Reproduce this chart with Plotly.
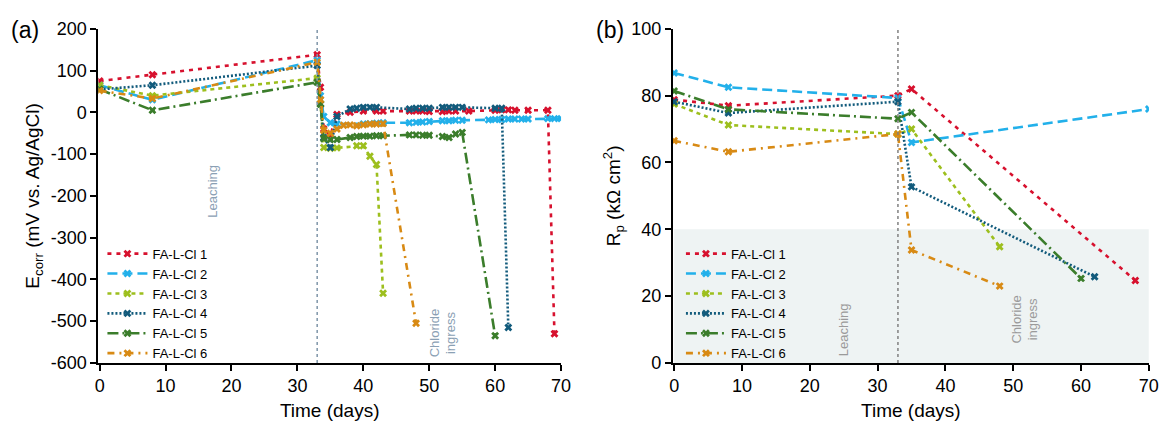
import plotly.graph_objects as go

names = ["FA-L-Cl 1", "FA-L-Cl 2", "FA-L-Cl 3", "FA-L-Cl 4", "FA-L-Cl 5", "FA-L-Cl 6"]
colors = ["#d7112e", "#22b0ea", "#9dbf1e", "#125b7c", "#3b7d2b", "#d88a14"]
dashes = ["4px,5px", "10px,5px", "4px,4px", "2px,2px", "11px,4px,2px,4px", "7px,5px,2px,5px"]

# (a) Ecorr data
e1_day = [0, 8, 33, 33.5, 34, 35, 36, 38, 40, 42, 43, 47, 48, 49, 50, 52, 53, 54, 56, 60, 61, 62, 63, 65, 68, 69]
e1_val = [75, 90, 138, 60, -40, -55, -5, 0, 3, 3, 3, 3, 3, 3, 2, 2, 3, 3, 3, 5, 6, 6, 5, 5, 5, -530]
e2_day = [0, 8, 33, 33.5, 34, 35, 36, 40, 41, 42, 43, 47, 48, 49, 50, 52, 53, 54, 55, 59, 60, 61, 62, 63, 64, 65, 68, 69, 70]
e2_val = [65, 30, 125, 40, -10, -25, -28, -28, -27, -26, -25, -25, -24, -23, -22, -20, -20, -19, -19, -18, -17, -17, -16, -16, -16, -16, -15, -15, -15]
e3_day = [0, 8, 33, 33.5, 34, 35, 36, 39, 40, 41, 42, 43]
e3_val = [65, 40, 82, 20, -84, -86, -85, -80, -80, -105, -125, -433]
e4_day = [0, 8, 33, 33.5, 34, 35, 36, 38, 39, 40, 41, 42, 47, 48, 49, 50, 52, 53, 54, 55, 60, 61, 62]
e4_val = [55, 65, 112, 20, -60, -84, -10, 8, 10, 12, 12, 12, 8, 10, 10, 10, 12, 12, 12, 12, 10, 10, -515]
e5_day = [0, 8, 33, 33.5, 34, 35, 36, 38, 39, 40, 41, 42, 43, 47, 48, 49, 50, 52, 53, 54, 55, 60]
e5_val = [55, 5, 72, 20, -63, -65, -65, -60, -58, -57, -57, -56, -56, -54, -54, -55, -55, -58, -60, -52, -48, -535]
e6_day = [0, 8, 33, 33.5, 34, 35, 36, 37, 38, 39, 40, 41, 42, 43, 48]
e6_val = [52, 33, 120, 30, -43, -50, -40, -31, -30, -32, -30, -28, -28, -27, -505]

# (b) Rp data
r1_day = [0, 8, 33, 35, 68]
r1_val = [78.8, 77, 80, 82, 24.7]
r2_day = [0, 8, 33, 35, 70]
r2_val = [86.8, 82.5, 79.3, 66, 76]
r3_day = [0, 8, 33, 35, 48]
r3_val = [77.5, 71.2, 68.5, 70, 34.8]
r4_day = [0, 8, 33, 35, 62]
r4_val = [78.2, 74.8, 78.2, 52.7, 25.8]
r5_day = [0, 8, 33, 35, 60]
r5_val = [81.4, 75.9, 73.1, 75, 25.3]
r6_day = [0, 8, 33, 35, 48]
r6_val = [66.5, 63.2, 68.5, 33.8, 23]

x_ticks = [0, 10, 20, 30, 40, 50, 60, 70]
e_ticks = [-600, -500, -400, -300, -200, -100, 0, 100, 200]
e_ticktext = ["-600", "-500", "-400", "-300", "-200", "-100", "0", "100", "200"]
r_ticks = [0, 20, 40, 60, 80, 100]

e_days = [e1_day, e2_day, e3_day, e4_day, e5_day, e6_day]
e_vals = [e1_val, e2_val, e3_val, e4_val, e5_val, e6_val]
r_days = [r1_day, r2_day, r3_day, r4_day, r5_day, r6_day]
r_vals = [r1_val, r2_val, r3_val, r4_val, r5_val, r6_val]

FONT = "Liberation Sans, Arial, sans-serif"
fig = go.Figure()

for i in range(6):
    fig.add_trace(go.Scatter(
        x=e_days[i], y=e_vals[i], name=names[i], mode="lines+markers",
        line=dict(color=colors[i], width=2.6, dash=dashes[i]),
        marker=dict(symbol="x", size=7, color=colors[i]),
        xaxis="x", yaxis="y", legend="legend"))
for i in range(6):
    fig.add_trace(go.Scatter(
        x=r_days[i], y=r_vals[i], name=names[i], mode="lines+markers",
        line=dict(color=colors[i], width=2.6, dash=dashes[i]),
        marker=dict(symbol="x", size=7, color=colors[i]),
        xaxis="x2", yaxis="y2", legend="legend2"))

axis_common = dict(showline=True, linecolor="black", linewidth=1.8, ticks="outside",
                   ticklen=6, tickwidth=1.5, tickcolor="black", showgrid=False, zeroline=False,
                   automargin=False,
                   tickfont=dict(family=FONT, size=18, color="black"),
                   title_font=dict(family=FONT, size=19, color="black"))

fig.update_layout(
    width=1164, height=424, margin=dict(l=0, r=0, t=0, b=0),
    paper_bgcolor="white", plot_bgcolor="rgba(0,0,0,0)",
    xaxis=dict(domain=[0.0845, 0.482], range=[-0.2, 70], tickvals=x_ticks,
               title=dict(text="Time (days)", standoff=8), anchor="y", **axis_common),
    yaxis=dict(domain=[0.144, 0.932], range=[-600, 200], tickvals=e_ticks, ticktext=e_ticktext,
               title=dict(text="E<sub>corr</sub> (mV vs. Ag/AgCl)", standoff=6), anchor="x", **axis_common),
    xaxis2=dict(domain=[0.578, 0.987], range=[-0.2, 70], tickvals=x_ticks,
                title=dict(text="Time (days)", standoff=8), anchor="y2", **axis_common),
    yaxis2=dict(domain=[0.144, 0.932], range=[0, 100], tickvals=r_ticks,
                title=dict(text="R<sub>p</sub> (kΩ cm<sup>2</sup>)", standoff=6), anchor="x2", **axis_common),
    legend=dict(x=0.088, y=0.437, xanchor="left", yanchor="top", bgcolor="rgba(0,0,0,0)",
                font=dict(family=FONT, size=13, color="black"), tracegroupgap=0, itemwidth=40),
    legend2=dict(x=0.585, y=0.437, xanchor="left", yanchor="top", bgcolor="rgba(0,0,0,0)",
                 font=dict(family=FONT, size=13, color="black"), tracegroupgap=0, itemwidth=40),
    showlegend=True,
)

# shaded region on (b)
fig.add_shape(type="rect", xref="x2", yref="y2", x0=0, x1=70, y0=0, y1=40,
              fillcolor="#eef3f3", line=dict(width=0), layer="below")
# vertical dotted lines at day 33
fig.add_shape(type="line", xref="x", yref="y", x0=33, x1=33, y0=-600, y1=200,
              line=dict(color="#7e95a8", width=1.5, dash="dot"))
fig.add_shape(type="line", xref="x2", yref="y2", x0=33, x1=33, y0=0, y1=100,
              line=dict(color="#808080", width=1.5, dash="dot"))

ann = [
    dict(text="(a)", x=0.008, y=0.93, xref="paper", yref="paper", xanchor="left", yanchor="middle",
         font=dict(family=FONT, size=23, color="black"), showarrow=False),
    dict(text="(b)", x=0.51, y=0.93, xref="paper", yref="paper", xanchor="left", yanchor="middle",
         font=dict(family=FONT, size=23, color="black"), showarrow=False),
    dict(text="Leaching", x=17.2, y=-190, xref="x", yref="y", textangle=-90,
         font=dict(family=FONT, size=13, color="#8aa0b4"), showarrow=False),
    dict(text="Chloride<br>ingress", x=52, y=-528, xref="x", yref="y", textangle=-90,
         font=dict(family=FONT, size=13, color="#8aa0b4"), showarrow=False),
    dict(text="Leaching", x=25, y=10, xref="x2", yref="y2", textangle=-90,
         font=dict(family=FONT, size=13, color="#9a9a9a"), showarrow=False),
    dict(text="Chloride<br>ingress", x=51.6, y=13, xref="x2", yref="y2", textangle=-90,
         font=dict(family=FONT, size=13, color="#9a9a9a"), showarrow=False),
]
fig.update_layout(annotations=ann)

fig.write_html("out.html")
